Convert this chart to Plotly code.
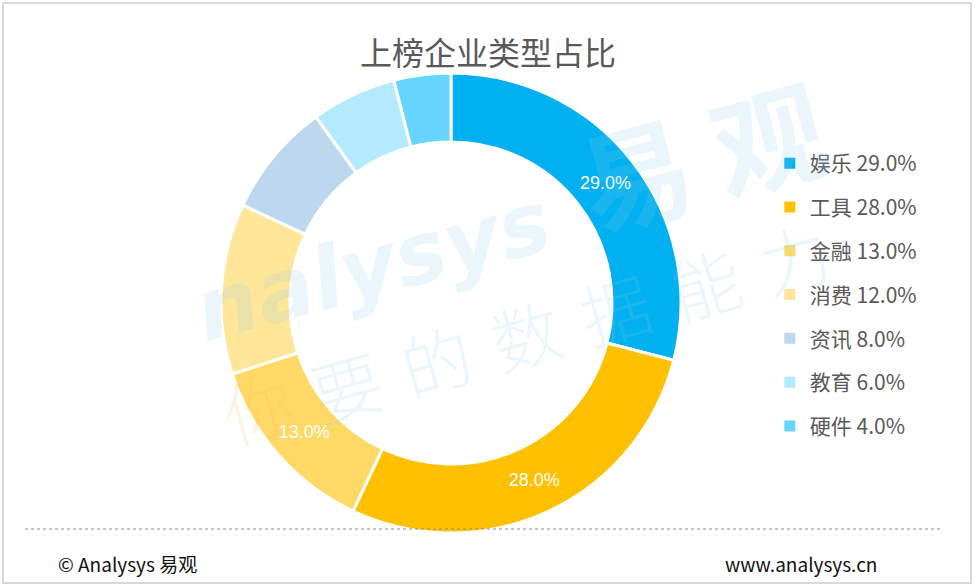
import plotly.graph_objects as go

categories = ["娱乐", "工具", "金融", "消费", "资讯", "教育", "硬件"]
shares = [29.0, 28.0, 13.0, 12.0, 8.0, 6.0, 4.0]
colors = ["#00B0F0", "#FFC000", "#FFD966", "#FFE699", "#BDD7EE", "#B4EAFE", "#66D5FE"]
shown_labels = [True, True, True, False, False, False, False]

title_text = "上榜企业类型占比"
footer_left = "© Analysys 易观"
footer_right = "www.analysys.cn"

W, H = 976, 588
CJK = "Noto Sans CJK SC"
GREY = "#595959"


def px(x):
    return x / W


def py(y):
    return 1 - y / H


texts = [f"{v:.1f}%" if s else "" for v, s in zip(shares, shown_labels)]

fig = go.Figure()
fig.add_trace(go.Pie(
    labels=categories,
    values=shares,
    text=texts,
    textinfo="text",
    textposition="inside",
    insidetextorientation="horizontal",
    textfont=dict(family="Liberation Sans, Arial, sans-serif", size=18, color="white"),
    hole=0.70,
    sort=False,
    direction="clockwise",
    rotation=0,
    marker=dict(colors=colors, line=dict(color="white", width=3)),
    showlegend=False,
    hoverinfo="label+percent",
    domain=dict(x=[px(451 - 230), px(451 + 230)], y=[py(303 + 230), py(303 - 230)]),
))

for c, v, col in zip(categories, shares, colors):
    fig.add_trace(go.Scatter(
        x=[None], y=[None], mode="markers",
        marker=dict(symbol="square", size=11, color=col),
        name=f"{c} {v:.1f}%", legendgroup=c, showlegend=True,
    ))

# faint watermark drawn over the chart like the original
WM = "rgba(140,205,240,0.18)"
fig.add_annotation(x=px(372), y=py(266), xref="paper", yref="paper",
                   xanchor="center", yanchor="middle",
                   text="<b><i>nalysys</i></b>",
                   showarrow=False, textangle=-15,
                   font=dict(family="DejaVu Sans", size=86, color=WM))
fig.add_annotation(x=px(700), y=py(152), xref="paper", yref="paper",
                   xanchor="center", yanchor="middle", text="<b>易 观</b>",
                   showarrow=False, textangle=-15,
                   font=dict(family=CJK, size=112, color=WM))
fig.add_annotation(x=px(570), y=py(320), xref="paper", yref="paper",
                   xanchor="center", yanchor="middle",
                   text="要\u2004的\u2004数\u2004据\u2004能\u2004力",
                   showarrow=False, textangle=-16,
                   font=dict(family=CJK, size=70, color=WM, weight=300))
fig.add_annotation(x=px(258), y=py(405), xref="paper", yref="paper",
                   xanchor="center", yanchor="middle", text="你",
                   showarrow=False, textangle=-16,
                   font=dict(family=CJK, size=70, color="rgba(255,175,100,0.18)", weight=300))

fig.add_annotation(x=px(488), y=py(51), xref="paper", yref="paper", text=title_text,
                   showarrow=False, xanchor="center", yanchor="middle",
                   font=dict(family=CJK, size=32, color=GREY))
fig.add_annotation(x=px(56), y=py(563), xref="paper", yref="paper", text=footer_left,
                   showarrow=False, xanchor="left", yanchor="middle",
                   font=dict(family=CJK, size=19, color="#111111"))
fig.add_annotation(x=px(879), y=py(563), xref="paper", yref="paper", text=footer_right,
                   showarrow=False, xanchor="right", yanchor="middle",
                   font=dict(family=CJK, size=19, color="#111111"))

fig.add_shape(type="line", xref="paper", yref="paper", x0=px(25), x1=px(942),
              y0=py(529), y1=py(529), line=dict(color="#8c8c8c", width=1.2, dash="dot"))
fig.add_shape(type="rect", xref="paper", yref="paper", x0=px(3), x1=px(971),
              y0=py(583), y1=py(3), line=dict(color="#d9d9d9", width=2))

fig.update_layout(
    width=W, height=H,
    margin=dict(l=0, r=0, t=0, b=0),
    paper_bgcolor="white", plot_bgcolor="white",
    xaxis=dict(visible=False), yaxis=dict(visible=False),
    legend=dict(x=0.800 - 11 / W, y=1 - 143 / H, xanchor="left", yanchor="top",
                font=dict(family=CJK, size=21, color=GREY),
                tracegroupgap=13.5, itemwidth=30, bgcolor="rgba(0,0,0,0)"),
)

fig.write_html("out.html", config={"displayModeBar": False},
               post_script="document.body.style.margin='0px';")
